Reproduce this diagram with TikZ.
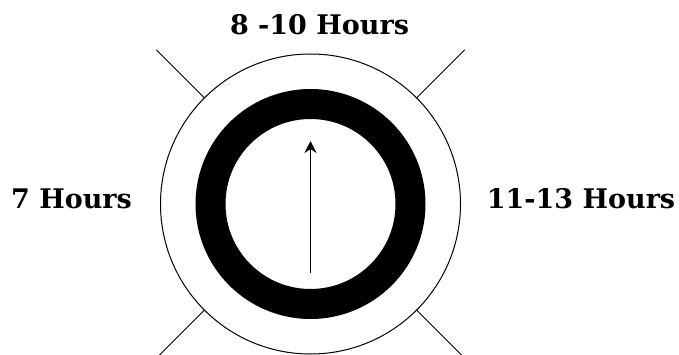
\documentclass[tikz,border=0pt]{standalone}
\usepackage{fontspec}
\setmainfont{DejaVu Serif}
\usetikzlibrary{arrows.meta,calc}
\tikzset{
  lbl/.style={font=\bfseries\fontsize{27}{30}\selectfont, inner sep=0pt, anchor=base},
  thin line/.style={line width=1pt, black},
}
\begin{document}
\begin{tikzpicture}[x=1pt,y=-1pt]
\useasboundingbox (0,0) rectangle (679,355);
\clip (0,0) rectangle (679,355);
\coordinate (c) at (310.5,204);
\node[draw, circle, thin line, minimum size=300pt, inner sep=0pt] (dial) at (c) {};
\node[draw, circle, line width=30pt, minimum size=200pt, inner sep=0pt] (ring) at (c) {};
\coordinate (tail) at (310.5,273);
\coordinate (tip) at (310.5,141);
\draw[thin line, -{Stealth[length=12pt,width=12pt]}] (tail) -- (tip);
\foreach \a/\n in {135/tl,45/tr,225/bl,315/br}{
  \coordinate (e\n) at ($(c)+(\a:218pt)$);
}
\draw[thin line] (dial.135) -- (etl);
\draw[thin line] (dial.45) -- (etr);
\draw[thin line] (dial.225) -- (ebl);
\draw[thin line] (dial.315) -- (ebr);
\node[lbl] (top) at (319.5,35) {8 -10 Hours};
\node[lbl] (left) at (71.5,208) {7 Hours};
\node[lbl] (right) at (581,208) {11-13 Hours};
\end{tikzpicture}
\end{document}
